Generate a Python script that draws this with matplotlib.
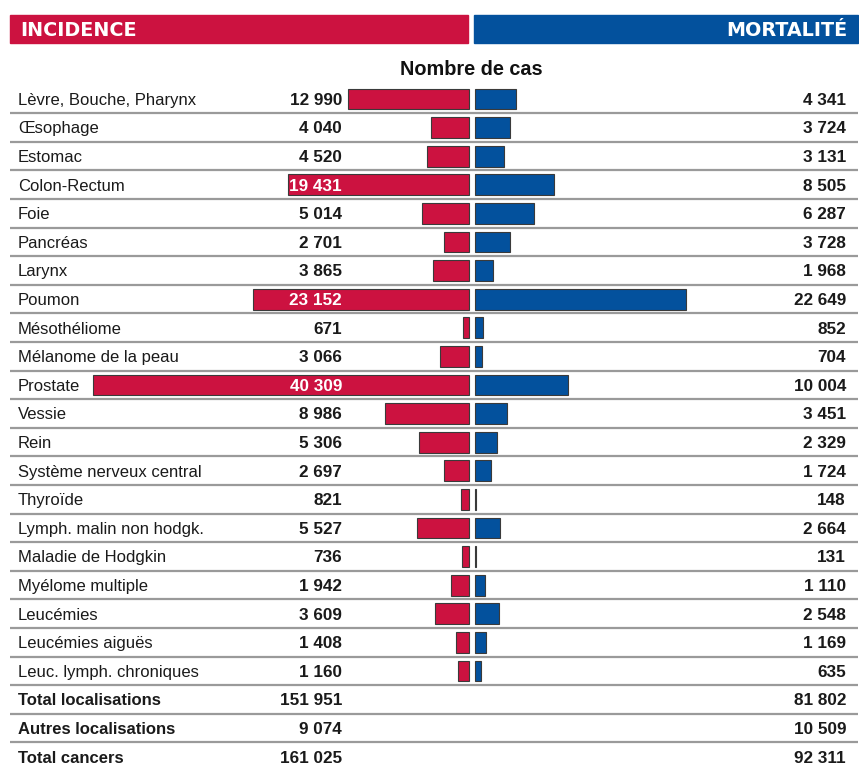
import matplotlib
matplotlib.use("Agg")
import matplotlib.pyplot as plt
from matplotlib.patches import Rectangle
import matplotlib.transforms as mtransforms

plt.rcParams['font.family'] = ['Liberation Sans', 'DejaVu Sans']

categories = ["Lèvre, Bouche, Pharynx", "Œsophage", "Estomac", "Colon-Rectum", "Foie",
              "Pancréas", "Larynx", "Poumon", "Mésothéliome", "Mélanome de la peau",
              "Prostate", "Vessie", "Rein", "Système nerveux central", "Thyroïde",
              "Lymph. malin non hodgk.", "Maladie de Hodgkin", "Myélome multiple",
              "Leucémies", "Leucémies aiguës", "Leuc. lymph. chroniques"]
incidence = [12990, 4040, 4520, 19431, 5014, 2701, 3865, 23152, 671, 3066,
             40309, 8986, 5306, 2697, 821, 5527, 736, 1942, 3609, 1408, 1160]
mortalite = [4341, 3724, 3131, 8505, 6287, 3728, 1968, 22649, 852, 704,
             10004, 3451, 2329, 1724, 148, 2664, 131, 1110, 2548, 1169, 635]
total_labels = ["Total localisations", "Autres localisations", "Total cancers"]
total_incidence = [151951, 9074, 161025]
total_mortalite = [81802, 10509, 92311]

RED = "#cc1240"
BLUE = "#03519d"
TXT = "#1a1a1a"

def fmt(v):
    return f"{v:,}".replace(",", " ")

W, H = 859, 765
fig = plt.figure(figsize=(W / 100, H / 100), dpi=100)
ax = fig.add_axes([0, 0, 1, 1])
ax.axis("off")

scale = 0.00933       # pixels per case
x0 = 469              # pixel of centre
gap = 6 / scale       # gap between red and blue
row0, step = 99, 28.6
ax.set_xlim(-x0 / scale, (W - x0) / scale)
ax.set_ylim((H - row0) / step, -row0 / step)

px = mtransforms.blended_transform_factory(
    mtransforms.Affine2D().scale(1 / W, 1) + fig.transFigure, ax.transData)
figpx = mtransforms.Affine2D().scale(1 / W, -1 / H).translate(0, 1) + fig.transFigure

# Headers
fig.patches.append(Rectangle((10, 15), 458, 28, transform=figpx, color=RED, zorder=0))
fig.patches.append(Rectangle((474, 15), 384, 28, transform=figpx, color=BLUE, zorder=0))
fig.text(20, 36, "INCIDENCE", transform=figpx, color="white", fontsize=13.8,
         fontweight="bold", va="baseline", ha="left", family=["DejaVu Sans"])
fig.text(848, 36, "MORTALITÉ", transform=figpx, color="white", fontsize=13.8,
         fontweight="bold", va="baseline", ha="right", family=["DejaVu Sans"])
fig.text(471, 75, "Nombre de cas", transform=figpx, color="#111111", fontsize=14.3,
         fontweight="bold", va="baseline", ha="center")

n = len(categories)
bar_h = 0.73
ys = list(range(n))
ax.barh(ys, [-v for v in incidence], height=bar_h, left=0, color=RED,
        edgecolor="#3a3a3a", linewidth=0.8)
ax.barh(ys, mortalite, height=bar_h, left=gap, color=BLUE,
        edgecolor="#3a3a3a", linewidth=0.8)

num_x_left = 342
num_x_right = 846
dy = 0.2
LFS, NFS = 12, 12.3
for i, (lab, vi, vm) in enumerate(zip(categories, incidence, mortalite)):
    ax.text(18, i + dy, lab, transform=px, va="baseline", ha="left", fontsize=LFS, color=TXT)
    inside = (x0 - vi * scale) < num_x_left - 45
    ax.text(num_x_left, i + dy, fmt(vi), transform=px, va="baseline", ha="right",
            fontsize=NFS, fontweight="bold", color="white" if inside else TXT)
    ax.text(num_x_right, i + dy, fmt(vm), transform=px, va="baseline", ha="right",
            fontsize=NFS, fontweight="bold", color=TXT)

for k, (lab, vi, vm) in enumerate(zip(total_labels, total_incidence, total_mortalite)):
    i = n + k
    ax.text(18, i + dy, lab, transform=px, va="baseline", ha="left", fontsize=LFS,
            fontweight="bold", color=TXT)
    ax.text(num_x_left, i + dy, fmt(vi), transform=px, va="baseline", ha="right",
            fontsize=NFS, fontweight="bold", color=TXT)
    ax.text(num_x_right, i + dy, fmt(vm), transform=px, va="baseline", ha="right",
            fontsize=NFS, fontweight="bold", color=TXT)

total_rows = n + len(total_labels)
for i in range(total_rows - 1):
    ax.plot([10, 858], [i + 0.5, i + 0.5], transform=px, color="#9a9a9a", lw=1.6,
            solid_capstyle="butt", zorder=0)

fig.savefig("out.png", dpi=100, facecolor="white")
